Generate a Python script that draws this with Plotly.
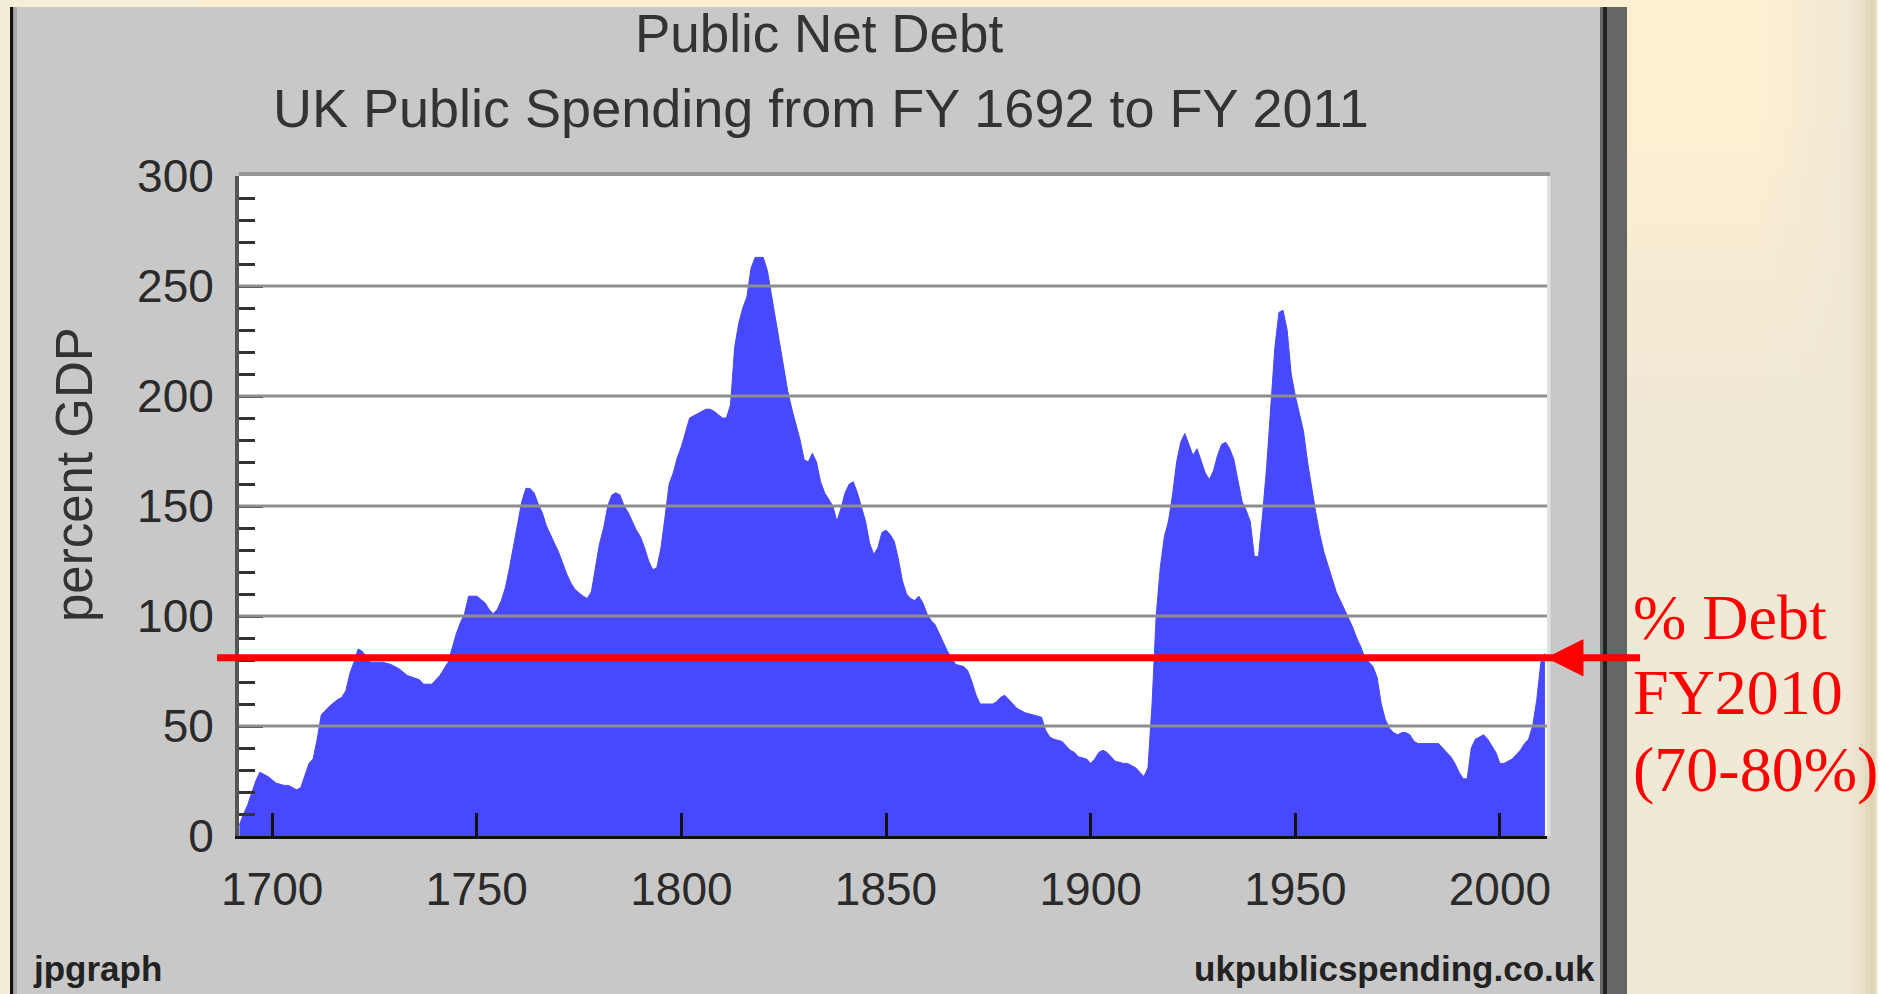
import plotly.graph_objects as go

# ---------------- data ----------------
years = [1692, 1693, 1694, 1695, 1696, 1697, 1698, 1699, 1701, 1703, 1704, 1706, 1707, 1708, 1709, 1710,
         1711, 1712, 1713, 1714, 1716, 1717, 1718, 1719, 1720, 1721, 1722, 1724, 1727, 1729, 1731, 1733,
         1736, 1737, 1739, 1741, 1743, 1744, 1745, 1746, 1747, 1748, 1750, 1752, 1753, 1754, 1755, 1756,
         1757, 1758, 1759, 1760, 1761, 1762, 1763, 1764, 1765, 1766, 1767, 1768, 1769, 1770, 1771, 1772,
         1773, 1774, 1776, 1777, 1778, 1779, 1780, 1781, 1782, 1783, 1784, 1785, 1786, 1787, 1788, 1789,
         1790, 1791, 1792, 1793, 1794, 1795, 1796, 1797, 1798, 1799, 1800, 1801, 1802, 1804, 1806, 1807,
         1808, 1810, 1811, 1812, 1813, 1814, 1815, 1816, 1817, 1818, 1820, 1821, 1822, 1823, 1824, 1825,
         1826, 1827, 1828, 1829, 1830, 1831, 1832, 1833, 1834, 1835, 1837, 1838, 1839, 1840, 1841, 1842,
         1843, 1844, 1845, 1846, 1847, 1848, 1849, 1850, 1851, 1852, 1853, 1854, 1855, 1856, 1857, 1858,
         1859, 1860, 1861, 1862, 1863, 1864, 1865, 1866, 1867, 1869, 1870, 1871, 1872, 1873, 1874, 1876,
         1877, 1878, 1879, 1880, 1881, 1882, 1884, 1886, 1888, 1889, 1890, 1891, 1893, 1894, 1895, 1896,
         1897, 1899, 1900, 1901, 1902, 1903, 1904, 1905, 1906, 1908, 1909, 1910, 1911, 1912, 1913, 1914,
         1915, 1916, 1917, 1918, 1919, 1920, 1921, 1922, 1923, 1924, 1925, 1926, 1927, 1928, 1929, 1930,
         1931, 1932, 1933, 1934, 1935, 1936, 1937, 1938, 1939, 1940, 1941, 1942, 1943, 1944, 1945, 1946,
         1947, 1948, 1949, 1950, 1951, 1952, 1953, 1954, 1955, 1956, 1957, 1958, 1959, 1960, 1961, 1962,
         1963, 1964, 1965, 1966, 1967, 1968, 1969, 1970, 1971, 1972, 1973, 1974, 1975, 1976, 1977, 1978,
         1979, 1980, 1982, 1984, 1985, 1986, 1987, 1988, 1989, 1990, 1991, 1992, 1993, 1994, 1995, 1996,
         1997, 1998, 1999, 2000, 2001, 2002, 2003, 2004, 2005, 2006, 2007, 2008, 2009, 2010, 2011]

debt = [5, 10, 14, 20, 25, 29, 28, 27, 24, 23, 23, 21, 22, 28, 33, 35,
        44, 55, 57, 59, 62, 63, 66, 74, 79, 85, 84, 79, 79, 78, 76, 73,
        71, 69, 69, 73, 79, 86, 92, 97, 101, 109, 109, 106, 103, 101, 103, 107,
        113, 122, 133, 142, 152, 158, 158, 156, 151, 147, 141, 137, 133, 129, 124, 119,
        115, 112, 109, 108, 111, 122, 133, 140, 150, 155, 156, 155, 150, 147, 143, 139,
        136, 131, 125, 121, 122, 131, 145, 160, 165, 172, 177, 184, 190, 192, 194, 194,
        193, 190, 190, 196, 222, 233, 240, 245, 258, 263, 263, 257, 246, 236, 224, 212,
        202, 194, 187, 180, 171, 170, 174, 170, 161, 156, 150, 143, 149, 156, 160, 161,
        156, 150, 143, 133, 128, 131, 138, 139, 137, 134, 126, 116, 110, 108, 107, 109,
        106, 101, 98, 96, 92, 88, 84, 81, 78, 77, 75, 70, 64, 60, 60, 60,
        61, 63, 64, 62, 60, 58, 56, 55, 54, 48, 45, 44, 43, 41, 39, 38,
        36, 35, 33, 35, 38, 39, 38, 36, 34, 33, 33, 32, 31, 29, 27, 31,
        60, 100, 122, 136, 143, 155, 170, 179, 183, 178, 173, 176, 170, 165, 162, 166,
        173, 178, 179, 176, 171, 162, 152, 148, 143, 127, 127, 146, 168, 195, 222, 238,
        239, 230, 210, 200, 192, 184, 170, 158, 147, 137, 129, 123, 117, 111, 107, 103,
        99, 95, 90, 86, 81, 79, 77, 72, 60, 53, 49, 47, 46, 47, 47, 46,
        43, 42, 42, 42, 42, 40, 38, 36, 33, 29, 26, 26, 40, 44, 45, 46,
        44, 41, 38, 33, 33, 34, 35, 37, 39, 42, 44, 50, 62, 79, 83]

x_ticks = [1700, 1750, 1800, 1850, 1900, 1950, 2000]
y_ticks = [0, 50, 100, 150, 200, 250, 300]
grid_vals = [50, 100, 150, 200, 250]
marker_level = 81          # "% Debt FY2010" red reference line (percent GDP)

title_1 = "Public Net Debt"
title_2 = "UK Public Spending from FY 1692 to FY 2011"
y_title = "percent GDP"
note_lines = ["% Debt", "FY2010", "(70-80%)"]

# ---------------- geometry / styling ----------------
FIG_W, FIG_H = 1892, 994
L, R, T, B = 239, 1547, 176, 836


def px(x):
    return (x - L) / (R - L)


def py(y):
    return (B - y) / (B - T)


SANS = "Liberation Sans, Arial, sans-serif"
SERIF = "Liberation Serif, Times New Roman, serif"
BLUE = "#4848FF"

fig = go.Figure()
fig.add_trace(go.Scatter(
    x=years, y=debt, mode="lines", fill="tozeroy",
    fillcolor=BLUE, line=dict(color=BLUE, width=1),
    hoverinfo="skip", showlegend=False))

shapes = []


def rect(x0, y0, x1, y1, color, layer="below"):
    shapes.append(dict(type="rect", xref="paper", yref="paper",
                       x0=px(x0), x1=px(x1), y0=py(y1), y1=py(y0),
                       fillcolor=color, line=dict(width=0), layer=layer))


def lerp(a, b, t):
    return tuple(a[i] + (b[i] - a[i]) * t for i in range(3))


def clamp(v):
    return max(0.0, min(1.0, v))


PEACH = (253, 239, 210)
PALE = (240, 233, 213)
TAN = (218, 206, 170)


def cream(x, y):
    c = lerp(PEACH, PALE, clamp((y - 120) / 280))
    c = lerp(c, PALE, clamp((x - 1760) / 90))
    c = lerp(c, TAN, clamp((x - 1845) / 33) ** 1.5)
    return "rgb(%d,%d,%d)" % tuple(round(v) for v in c)


# cream surroundings (right side gradient)
ybands = list(range(0, 400, 25)) + [400, FIG_H + 5]
xs = [1627, 1760] + list(range(1765, 1880, 5))
for j in range(len(ybands) - 1):
    y0, y1 = ybands[j], ybands[j + 1]
    for i in range(len(xs) - 1):
        x0, x1 = xs[i], xs[i + 1]
        rect(x0, y0, x1 + 0.6, y1 + 0.6, cream((x0 + x1) / 2, (y0 + y1) / 2))
rect(1878, -5, FIG_W + 5, FIG_H + 5, "#FFFFFF")
# left strip and top band
rect(-5, -5, 10, FIG_H + 5, "rgb(243,237,216)")
rect(10, -5, 200, 7, "rgb(246,238,214)")
rect(200, -5, 1627, 7, "rgb(253,239,210)")

# grey jpgraph panel with its borders
rect(10, 7, 13.5, FIG_H + 5, "#111111")
rect(13.5, 7, 17, FIG_H + 5, "#A8A8A8")
rect(17, 7, 1600, FIG_H + 5, "#C8C8C8")
rect(1600, 7, 1603, FIG_H + 5, "#666666")
rect(1603, 7, 1607, FIG_H + 5, "#222222")
rect(1607, 7, 1627, FIG_H + 5, "#666666")
# plot frame
rect(L, 172, 1550, 176, "#969696")
rect(L, 176, 1550, 179, "#D8D8D8")
rect(R, 176, 1550.5, B, "#E0E0E0")
rect(L, 176, R, B, "#FFFFFF")

# grid lines drawn over the area
for g in grid_vals:
    shapes.append(dict(type="line", xref="paper", yref="y", x0=0, x1=1, y0=g, y1=g,
                       line=dict(color="#8E8E8E", width=3), layer="above"))

# red reference line and arrow head
shapes.append(dict(type="line", xref="paper", yref="y", x0=px(217), x1=px(1640),
                   y0=marker_level, y1=marker_level,
                   line=dict(color="#FF0000", width=7), layer="above"))
ytip = B - marker_level * (B - T) / 300.0
path = "M %f,%f L %f,%f L %f,%f Z" % (px(1547), py(ytip), px(1583), py(ytip - 18),
                                      px(1583), py(ytip + 18))
shapes.append(dict(type="path", xref="paper", yref="paper", path=path,
                   fillcolor="#FF0000", line=dict(color="#FF0000", width=1), layer="above"))

annotations = [
    dict(text=title_1, x=px(819), y=py(33), xanchor="center", yanchor="middle",
         font=dict(family=SANS, size=53, color="#333333")),
    dict(text=title_2, x=px(821), y=py(108), xanchor="center", yanchor="middle",
         font=dict(family=SANS, size=54, color="#333333")),
    dict(text=y_title, x=px(74), y=py(475), xanchor="center", yanchor="middle", textangle=-90,
         font=dict(family=SANS, size=51, color="#333333")),
    dict(text="<b>jpgraph</b>", x=px(31), y=py(969), xanchor="left", yanchor="middle",
         font=dict(family=SANS, size=35, color="#222222")),
    dict(text="<b>ukpublicspending.co.uk</b>", x=px(1597), y=py(969), xanchor="right",
         yanchor="middle", font=dict(family=SANS, size=35, color="#222222")),
]
for txt, yc in zip(note_lines, [617, 692, 769]):
    annotations.append(dict(text=txt, x=px(1631), y=py(yc), xanchor="left", yanchor="middle",
                            font=dict(family=SERIF, size=64, color="#FF0000")))
for a in annotations:
    a.update(xref="paper", yref="paper", showarrow=False)

fig.update_layout(
    width=FIG_W, height=FIG_H,
    margin=dict(l=L, r=FIG_W - R, t=T, b=FIG_H - B, pad=0),
    paper_bgcolor="rgb(240,233,213)", plot_bgcolor="#FFFFFF",
    showlegend=False, shapes=shapes, annotations=annotations,
)
fig.update_xaxes(
    range=[1691.9, 2011.5], tickmode="array", tickvals=x_ticks,
    ticktext=[str(v) for v in x_ticks],
    ticks="inside", ticklen=23, tickwidth=3, tickcolor="#111111",
    showgrid=False, zeroline=False, showline=True, linecolor="#111111", linewidth=3,
    tickfont=dict(family=SANS, size=46, color="#2A2A2A"), ticklabelstandoff=11,
    fixedrange=True)
fig.update_yaxes(
    range=[0, 300], tickmode="array", tickvals=y_ticks,
    ticks="inside", ticklen=24, tickwidth=3, tickcolor="#333333",
    minor=dict(dtick=10, tick0=0, ticks="inside", ticklen=16, tickwidth=3,
               tickcolor="#333333", showgrid=False),
    showgrid=False, zeroline=False, showline=True, linecolor="#555555", linewidth=4,
    tickfont=dict(family=SANS, size=46, color="#2A2A2A"), ticklabelstandoff=12,
    fixedrange=True)

fig.write_html("out.html", config={"displayModeBar": False},
               post_script="document.body.style.margin='0px';"
                           "document.body.style.overflow='hidden';")
